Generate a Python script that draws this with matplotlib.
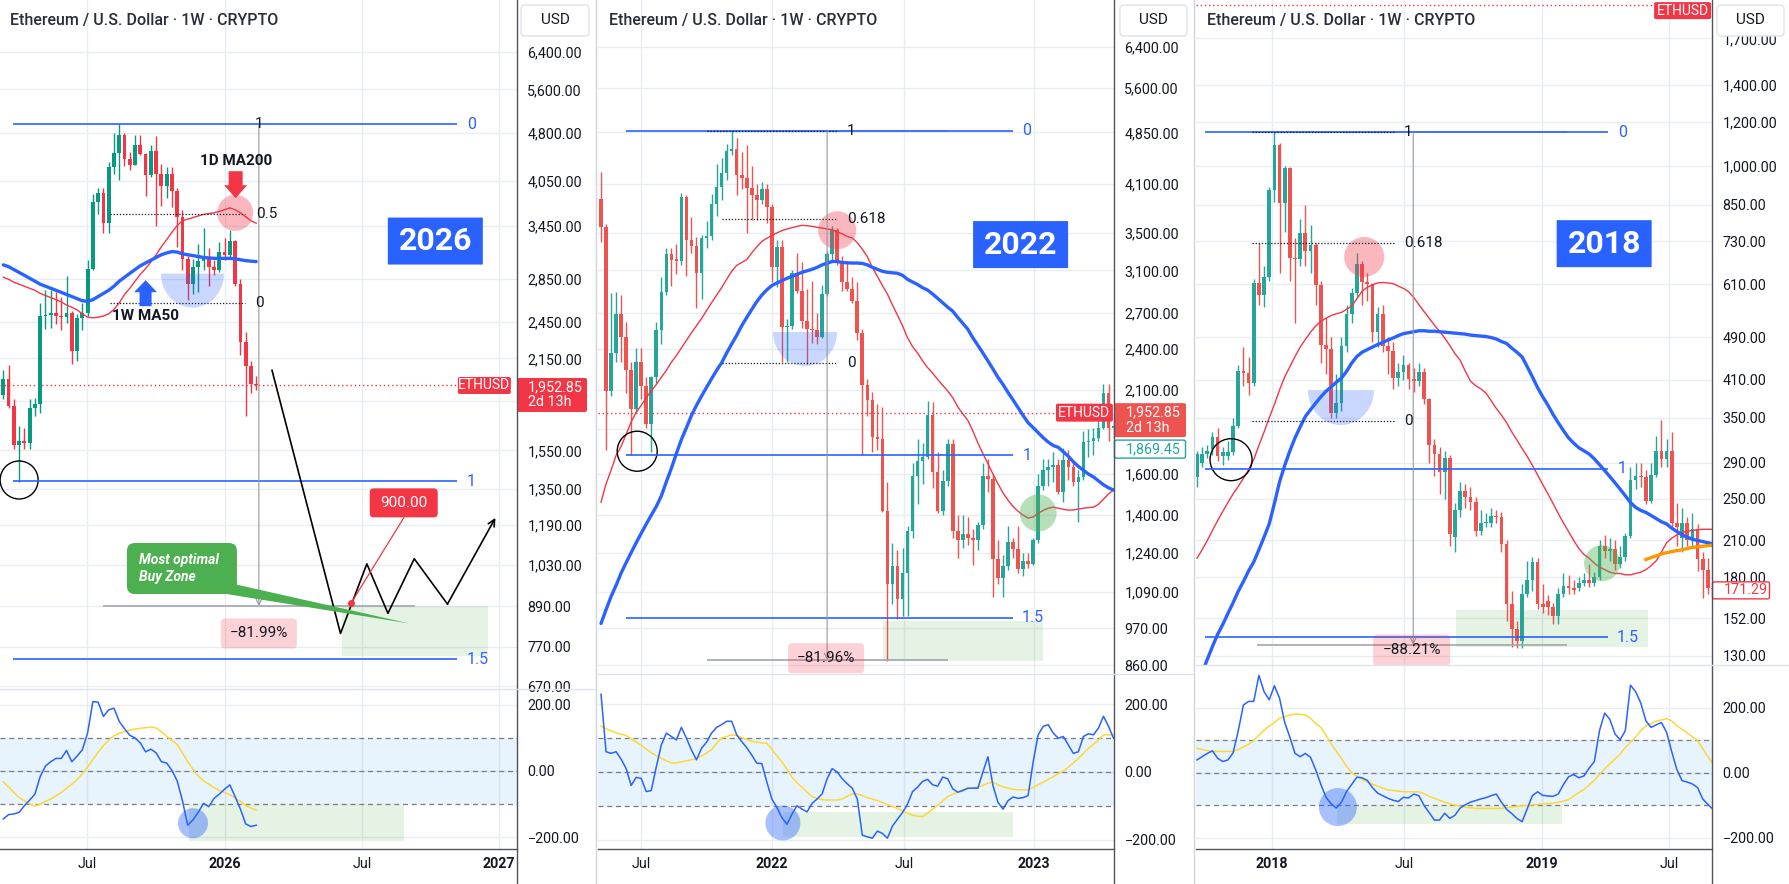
import numpy as np
import matplotlib
matplotlib.use("Agg")
import matplotlib.pyplot as plt
import matplotlib.transforms as mtrans
from matplotlib.patches import Circle, Polygon, Rectangle, FancyBboxPatch
from matplotlib.lines import Line2D
from matplotlib.ticker import NullLocator

# ======================= DATA =======================
# ---- Panel 1 (2025-2026), weekly candles ----
p1_open = [1890,1995,1815,1580,1600,1590,1805,1830,2500,2510,2530,2500,2490,2530,2205,2480,2530,2960,3755,3870,
           3480,4250,4460,4770,4380,4280,4600,4450,4130,4500,4150,3970,4150,3900,3560,3060,2800,2980,3040,3090,
           2980,2950,3140,3110,3270,2800,2280,2090,1960]
p1_high = [2060,2100,1860,1690,1680,1860,1870,2620,2740,2740,2720,2680,2880,2550,2520,2620,3050,3860,3950,3940,
           4330,4790,4955,4800,4490,4770,4760,4470,4590,4750,4290,4250,4250,3950,3650,3100,3060,3230,3420,3180,
           3050,3250,3300,3400,3280,2850,2360,2130,2020]
p1_low = [1860,1800,1560,1385,1560,1560,1750,1770,2390,2400,2430,2380,2440,2110,2130,2380,2500,2950,3600,3360,
          3360,4150,4060,4260,4200,4280,4440,3830,4100,3440,3700,3800,3680,3200,2950,2650,2700,2720,2950,2780,
          2890,2920,3050,3080,2780,2180,1750,1900,1920]
p1_close = [1995,1815,1580,1600,1590,1805,1830,2500,2510,2530,2500,2490,2530,2205,2480,2530,2960,3755,3870,3480,
            4250,4460,4770,4380,4280,4600,4450,4130,4500,4150,3970,4150,3900,3560,3060,2800,2980,3040,3090,2980,
            2950,3140,3110,3270,2800,2280,2090,1960,1952.85]
p1_ma200d = [2870,2850,2820,2800,2780,2760,2740,2710,2690,2670,2650,2630,2600,2580,2556,2520,2490,2485,2490,2500,
             2520,2560,2620,2700,2760,2830,2900,2960,3030,3110,3200,3280,3370,3450,3510,3530,3550,3570,3590,3600,
             3610,3630,3650,3675,3650,3610,3560,3510,3480]
p1_ma50w = [3000,2980,2950,2920,2890,2860,2830,2800,2780,2760,2740,2720,2700,2680,2660,2640,2635,2650,2680,2710,
            2740,2780,2830,2870,2910,2950,2990,3020,3050,3080,3110,3130,3145,3140,3120,3110,3100,3090,3080,3075,
            3070,3070,3070,3070,3065,3055,3045,3040,3035]
p1_cci = [-145,-132,-130,-125,-105,-88,-70,-17,15,28,38,38,62,28,45,64,115,210,208,165,
          185,190,150,128,108,100,85,58,66,55,28,24,2,-30,-90,-164,-148,-125,-98,-108,
          -83,-70,-55,-42,-78,-115,-160,-168,-164]
p1_cci_ma = [-33,-48,-65,-80,-90,-100,-106,-101,-92,-85,-75,-65,-52,-40,-26,-8,12,35,57,77,
             93,107,114,119,124,127,129,131,133,130,119,105,92,80,55,28,5,-15,-30,-40,
             -50,-59,-65,-72,-82,-92,-104,-112,-118]
p1_price_ticks = [6400,5600,4800,4050,3450,2850,2450,2150,1850,1550,1350,1190,1030,890,770,670]
p1_hidden_ticks = [1850]
p1_time_ticks = [15.9, 42.1, 68.1, 94.1]
p1_time_labels = ['Jul', '2026', 'Jul', '2027']
p1_path_x = [51, 64, 69, 73, 78, 84.3, 93.4]
p1_path_y = [2061, 808, 1035, 868, 1054, 897, 1219]
p1_fib = (4950, 1390)          # level 0 (top) and level 1
p1_fib_black_low = 2617        # level 0 of the 0.5 retracement tool
p1_target = 900.0
p1_drop = "\u221281.99%"

# ---- Panel 2 (2021-2023) ----
p2_open = [3905,3570,2095,2370,2690,2500,2240,1975,2300,2130,1880,2190,2550,2885,3270,3210,3200,3930,3415,3355,
           3070,3440,3460,3840,4060,4250,4560,4600,4230,4180,4050,3960,3900,4030,3810,3130,3340,2580,2590,3070,
           2900,2630,2560,2550,2500,2870,3270,3530,3190,2980,2920,2810,2530,2137,2032,1803,1790,1420,1118,1187,
           1065,1160,1330,1590,1670,1691,1938,1610,1420,1565,1765,1330,1290,1315,1300,1290,1357,1590,1575,1214,
           1141,1187,1282,1256,1177,1208,1196,1293,1540,1620,1636,1650,1508,1675,1636,1560,1583,1775,1780,1797,
           1860,2084,1860]
p2_high = [4260,3600,2880,2890,2860,2620,2300,2410,2410,2190,2200,2620,3030,3330,3330,3380,3990,3960,3680,3450,
           3480,3640,3970,4380,4460,4670,4868,4770,4550,4660,4350,4100,4130,4100,3850,3420,3420,2650,3100,3280,
           3180,2920,2990,2700,2960,3300,3580,3560,3250,3180,3030,2980,2560,2180,2090,2010,1990,1560,1280,1250,
           1260,1350,1660,1790,1770,2030,2020,1720,1620,1790,1790,1400,1400,1390,1340,1370,1660,1680,1600,1290,
           1230,1350,1300,1350,1240,1240,1300,1600,1680,1680,1720,1680,1740,1730,1670,1620,1840,1850,1860,1940,
           2140,2140,1950]
p2_low = [3400,1730,2060,2300,2300,2080,1700,1950,2040,1860,1720,2150,2440,2860,2950,3060,3150,3040,3280,2740,
          2820,3330,3420,3700,3900,4150,4510,3960,4030,3500,3650,3650,3850,3620,2980,2940,2300,2300,2560,2880,
          2570,2290,2450,2440,2490,2850,3200,3150,2900,2900,2790,2470,1700,1930,1720,1730,1415,873,1050,1000,
          1010,1010,1300,1450,1550,1680,1530,1410,1400,1540,1300,1220,1260,1270,1190,1250,1340,1510,1072,1120,
          1075,1170,1220,1160,1150,1180,1190,1280,1520,1540,1560,1500,1460,1570,1540,1370,1570,1690,1700,1780,
          1850,1780,1800]
p2_close = [3570,2095,2370,2690,2500,2240,1975,2300,2130,1880,2190,2550,2885,3270,3210,3200,3930,3415,3355,3070,
            3440,3460,3840,4060,4250,4560,4600,4230,4180,4050,3960,3900,4030,3810,3130,3340,2580,2590,3070,2900,
            2630,2560,2550,2500,2870,3270,3530,3190,2980,2920,2810,2530,2137,2032,1803,1790,1420,1118,1187,1065,
            1160,1330,1590,1670,1691,1938,1610,1420,1565,1765,1330,1290,1315,1300,1290,1357,1590,1575,1214,1141,
            1187,1282,1256,1177,1208,1196,1293,1540,1620,1636,1650,1508,1675,1636,1560,1583,1775,1780,1797,1860,
            2084,1860,1869.45]
p2_ma_red = [1460,1550,1620,1700,1750,1820,1895,1955,2000,2050,2095,2140,2190,2240,2300,2350,2410,2470,2530,2590,
             2650,2720,2790,2860,2930,3010,3090,3150,3180,3210,3280,3345,3405,3440,3470,3500,3526,3545,3560,3575,
             3587,3583,3575,3565,3555,3546,3535,3510,3490,3460,3444,3390,3320,3240,3130,3040,2950,2870,2770,2680,
             2590,2490,2420,2370,2310,2260,2220,2175,2135,2095,2050,1990,1945,1905,1840,1770,1710,1655,1600,1550,
             1505,1470,1440,1418,1400,1387,1392,1408,1422,1432,1437,1432,1427,1423,1424,1428,1432,1435,1437,1450,
             1475,1500,1519]
p2_ma_blue = [985,1030,1075,1115,1160,1200,1240,1280,1320,1360,1400,1440,1490,1560,1630,1710,1790,1860,1935,2000,
              2060,2120,2180,2240,2296,2370,2440,2510,2590,2660,2730,2800,2860,2910,2950,2975,2998,3020,3040,3060,
              3080,3095,3110,3130,3155,3172,3190,3190,3180,3176,3174,3174,3170,3155,3130,3110,3090,3080,3075,3070,
              3050,3010,2985,2960,2930,2907,2870,2830,2790,2750,2715,2660,2610,2560,2490,2430,2370,2310,2250,2190,
              2140,2085,2035,1985,1935,1890,1860,1830,1800,1775,1755,1745,1720,1695,1665,1640,1620,1600,1585,1565,
              1545,1530,1519]
p2_cci = [230,60,55,60,38,10,-40,-16,-19,-58,-55,15,80,115,105,95,132,100,65,36,
          70,88,115,132,140,150,150,110,90,72,50,26,25,-30,-80,-105,-135,-155,-125,-100,
          -110,-118,-93,-80,-65,-20,10,0,-20,-35,-48,-80,-187,-192,-196,-175,-182,-196,-160,-140,
          -120,-95,-58,-45,-28,-22,-38,-42,-15,-20,-50,-60,-55,-48,-48,-48,0,45,-40,-90,
          -110,-85,-74,-78,-76,-70,30,110,135,140,115,100,105,80,55,60,105,113,110,130,
          165,135,100]
p2_cci_ma = [136,128,122,116,112,108,98,88,79,68,57,48,40,33,27,27,30,33,36,40,
             47,56,66,85,100,105,110,108,102,96,91,88,86,85,67,48,30,8,-15,-32,
             -45,-60,-73,-78,-82,-83,-83,-83,-80,-72,-65,-65,-70,-76,-80,-85,-90,-97,-102,-108,
             -115,-122,-128,-131,-132,-122,-110,-98,-86,-73,-66,-60,-53,-50,-47,-44,-40,-33,-30,-38,
             -44,-48,-51,-53,-53,-53,-46,-38,-30,-22,-14,-5,3,14,27,40,55,70,82,94,
             110,110,110]
p2_price_ticks = [6400,5600,4850,4100,3500,3100,2700,2400,2100,1850,1600,1400,1240,1090,970,860]
p2_hidden_ticks = [1850]
p2_time_ticks = [7.96, 34.0, 60.3, 86.2]
p2_time_labels = ['Jul', '2022', 'Jul', '2023']
p2_fib = (4880, 1700)
p2_fib_black_low = 2294
p2_drop = "\u221281.96%"

# ---- Panel 3 (2017-2019) ----
p3_open = [274,290,301,308,323,298,298,303,338,426,422,405,614,583,628,905,1090,856,989,682,
           677,757,700,718,608,474,466,357,373,473,540,588,663,617,610,500,540,473,462,414,
           424,436,411,408,424,378,313,301,279,296,213,238,258,252,246,218,226,226,233,232,
           207,161,145,138,168,178,192,161,163,159,153,168,174,172,172,176,178,176,180,205,
           201,203,190,196,214,270,275,274,247,276,305,295,305,226,212,226,210,220,194,186,
           172]
p3_high = [305,310,312,330,335,310,318,350,436,470,450,625,725,660,915,1150,1100,1000,995,740,
           800,850,780,725,620,530,490,420,490,560,600,695,672,640,615,555,560,490,480,440,
           455,440,430,440,430,380,320,310,305,300,245,268,266,262,252,238,235,240,238,236,
           210,170,150,175,193,196,195,175,167,162,172,183,182,178,180,183,190,184,210,215,
           212,210,205,217,285,290,290,282,290,325,347,320,330,245,240,232,235,225,200,195,
           185]
p3_low = [262,285,296,300,292,287,294,300,335,400,385,400,560,555,620,860,640,760,620,520,
          660,660,640,560,440,420,350,350,360,460,520,580,560,570,480,470,460,420,395,400,
          410,395,390,400,370,290,275,255,250,205,200,232,240,238,214,215,222,222,226,200,
          150,135,134,134,166,170,158,155,154,148,148,166,168,168,170,174,173,174,178,195,
          193,186,187,193,212,260,262,244,245,274,285,285,220,205,200,205,205,185,165,168,
          160]
p3_close = [301,301,305,323,298,303,303,338,426,422,405,614,583,628,905,1090,856,989,682,677,
            757,700,718,608,474,466,357,373,473,540,588,663,617,610,500,540,473,462,414,424,
            436,411,408,424,378,313,301,279,296,216,238,258,252,246,218,226,227,233,232,207,
            161,145,138,168,178,192,161,159,159,153,168,174,172,171,176,178,176,180,205,201,
            203,190,196,214,270,275,274,247,276,305,295,305,226,222,226,210,220,194,186,172,
            171.29]
p3_ma_red = [195,202,210,219,228,237,246,255,263,272,282,294,312,330,350,370,393,415,433,452,
             470,485,500,513,523,530,536,540,543,550,558,575,593,603,609,614,615,614,612,606,
             600,592,578,561,545,530,515,502,488,473,457,445,425,408,400,395,388,376,364,354,
             343,330,319,308,298,287,276,265,255,245,235,226,218,210,203,198,195,191,188,186,
             184,183,183,182,182,183,184,186,189,193,200,208,212,215,217,218,219,219.5,220,220,
             220]
p3_ma_blue = [115,121,128,135,142,148,155,162,170,177,185,192,202,213,225,245,268,287,305,322,
              337,352,362,372,382,391,398,406,413,425,440,452,460,465,470,475,479,484,488,493,
              497,499,501,503,503,502,502,501,500,499,498,497,496,494,493,492,491,489,486,481,
              477,468,460,451,433,415,397,382,369,355,343,332,322,315,309,305,301,295,288,281,
              274,267,260,253,246,241,238,236,233,230,227,225,221,218,215,213,211,210,209,208,
              207]
p3_orange_x = [87,88,89,90,91,92,93,94,95,96,97,98,99,100]
p3_orange_y = [194,195.5,197,198.5,199.5,200.5,201.3,202,203,204,204.5,205,205.5,206]
p3_cci = [40,50,60,68,45,35,40,62,130,209,220,220,300,250,225,268,230,155,110,60,
          50,60,48,10,-35,-75,-95,-108,-90,-57,-35,-13,-15,-23,-45,-62,-70,-78,-84,-88,
          -75,-77,-65,-70,-100,-122,-145,-145,-124,-140,-130,-108,-98,-90,-85,-80,-76,-70,-65,-90,
          -112,-125,-140,-150,-110,-70,-58,-69,-71,-72,-65,-36,-12,-5,-15,-9,15,35,130,184,
          165,120,102,130,270,250,215,160,140,148,155,125,65,10,-24,-28,-34,-45,-80,-97,
          -112]
p3_cci_ma = [76,72,69,66,66,66,66,66,72,80,88,100,116,132,144,155,168,173,178,181,
             180,178,168,152,140,115,90,67,44,20,0,-10,-19,-28,-34,-41,-47,-52,-54,-56,
             -58,-58,-58,-58,-64,-72,-78,-84,-90,-95,-99,-102,-105,-107,-109,-109,-109,-109,-109,-109,
             -107,-105,-103,-101,-100,-98,-97,-95,-94,-93,-90,-87,-82,-71,-60,-51,-37,-22,-5,12,
             28,43,58,78,94,110,130,145,152,159,163,167,160,145,134,123,111,100,75,50,
             28]
p3_price_ticks = [1700,1400,1200,1000,850,730,610,490,410,350,290,250,210,180,152,130]
p3_hidden_ticks = []
p3_time_ticks = [14.5, 40.1, 66.9, 91.5]
p3_time_labels = ['2018', 'Jul', '2019', 'Jul']
p3_fib = (1150, 283)
p3_fib_black_low = 345
p3_drop = "\u221288.21%"

live_price = 1952.85

# ======================= STYLE / LAYOUT =======================
plt.rcParams['font.family'] = ['Roboto', 'DejaVu Sans']
TXT = '#131722'
GRID = '#e9ecf2'
AXL = '#50535e'
BLUE = '#2962ff'
RED = '#f23645'
GREEN = '#4caf50'
YEL = '#fdd835'
GRAY = '#9598a1'

W, H, DPI = 1789, 884, 100
fig = plt.figure(figsize=(W / DPI, H / DPI), dpi=DPI)
fig.patch.set_facecolor('white')
BOT = 849


def fig_ax(l, t, r, b):
    return fig.add_axes([l / W, 1 - b / H, (r - l) / W, (b - t) / H])


def ptrans(ax, x, y, base=None):
    return fig.dpi_scale_trans + mtrans.ScaledTranslation(x, y, base if base is not None else ax.transData)


def circle(ax, x, y, r, fc='none', ec='none', lw=1.0, alpha=1.0, z=5):
    c = Circle((0, 0), r / DPI, transform=ptrans(ax, x, y), fc=fc, ec=ec, lw=lw, alpha=alpha, zorder=z)
    ax.add_artist(c)


def rbox(ax, x, y, w, h, fc, ec='none', lw=0, rs=3, alpha=1.0, z=8, base=None, dx=0, dy=0):
    p = FancyBboxPatch(((dx - w / 2) / DPI, (dy - h / 2) / DPI), w / DPI, h / DPI,
                       boxstyle=f"round,pad=0,rounding_size={rs / DPI}",
                       transform=ptrans(ax, x, y, base), fc=fc, ec=ec, lw=lw, alpha=alpha,
                       zorder=z, clip_on=False)
    ax.add_artist(p)


def ptext(ax, x, y, s, dx=0, dy=0, base=None, **kw):
    ax.annotate(s, xy=(x, y), xycoords=base if base is not None else 'data',
                xytext=(dx * 0.72, dy * 0.72), textcoords='offset points',
                annotation_clip=False, **kw)


def bowl(ax, x, y, w, d, alpha=0.25):
    t = np.linspace(0, np.pi, 40)
    pts = np.column_stack([w / 2 * np.cos(t), -d * np.sin(t)]) / DPI
    ax.add_artist(Polygon(pts, closed=True, transform=ptrans(ax, x, y), fc=BLUE, ec='none',
                          alpha=alpha, zorder=5))


def block_arrow(ax, x, y, w, h, shaft, head, color, up=True):
    s = 1 if up else -1
    pts = np.array([(-shaft / 2, -s * h / 2), (shaft / 2, -s * h / 2), (shaft / 2, s * (h / 2 - head)),
                    (w / 2, s * (h / 2 - head)), (0, s * h / 2), (-w / 2, s * (h / 2 - head)),
                    (-shaft / 2, s * (h / 2 - head))]) / DPI
    ax.add_artist(Polygon(pts, closed=True, transform=ptrans(ax, x, y), fc=color, ec='none', zorder=7))


def fib_down(top, one, k):
    return float(np.exp(np.log(top) - k * (np.log(top) - np.log(one))))


def fib_up(low, top, k):
    return float(np.exp(np.log(low) + k * (np.log(top) - np.log(low))))


def draw_panel(left, right, mb, ylim, cylim, xlim, yt, hidden, xt, xl, O, Hh, L, C, red, blue, cci, ccim, up, dn):
    ax = fig_ax(left, 0, right, mb)
    axi = fig_ax(left, mb, right, BOT)
    for a in (ax, axi):
        for s in a.spines.values():
            s.set_visible(False)
        a.set_xlim(*xlim)
        a.set_xticks(xt)
        a.yaxis.tick_right()
        a.tick_params(axis='both', length=0, labelsize=10.3, labelcolor=TXT)
        a.tick_params(axis='y', pad=7.5)
        a.grid(True, color=GRID, lw=1)
        a.set_axisbelow(True)
    ax.set_yscale('log')
    ax.set_ylim(*ylim)
    ax.yaxis.set_minor_locator(NullLocator())
    ax.set_yticks(yt)
    # labels hidden behind the live-price tag in the original are left blank
    ax.set_yticklabels(['' if v in hidden else f"{v:,.2f}" for v in yt])
    ax.yaxis.set_minor_locator(NullLocator())
    ax.tick_params(axis='x', labelbottom=False)

    x = np.arange(len(O))
    O = np.asarray(O, float); Hh = np.asarray(Hh, float)
    L = np.asarray(L, float); C = np.asarray(C, float)
    cols = np.where(C >= O, up, dn)
    ax.vlines(x, L, Hh, colors=cols, lw=1, zorder=3)
    lo = np.minimum(O, C)
    hi = np.maximum(np.maximum(O, C), lo * 1.004)
    ax.bar(x, hi - lo, bottom=lo, width=0.72, color=cols, lw=0, zorder=4)
    ax.plot(x, red, color=RED, lw=1.0, zorder=5)
    ax.plot(x, blue, color=BLUE, lw=2.4, zorder=5, solid_capstyle='round')

    axi.set_ylim(*cylim)
    axi.set_yticks([200, 0, -200])
    axi.set_yticklabels(['200.00', '0.00', '\u2212200.00'])
    axi.axhspan(-100, 100, color='#2196f3', alpha=0.1, lw=0, zorder=1)
    for v in (100, 0, -100):
        axi.axhline(v, color='#787b86', lw=0.9, ls=(0, (4, 3)), zorder=2)
    xc = np.arange(len(cci))
    axi.plot(xc, ccim, color=YEL, lw=1.1, zorder=3)
    axi.plot(xc, cci, color=BLUE, lw=1.1, zorder=4)
    axi.set_xticklabels(xl)
    axi.tick_params(axis='x', pad=6)
    for lab in axi.get_xticklabels():
        if lab.get_text()[:1] == '2':
            lab.set_fontweight('bold')
    fig.add_artist(Line2D([right / W] * 2, [0, 1], transform=fig.transFigure, color=AXL, lw=1))
    fig.add_artist(Line2D([left / W, right / W], [1 - BOT / H] * 2, transform=fig.transFigure, color=AXL, lw=1))
    return ax, axi


def measure(ax, xv, top, low, x0, x1, label, lx, ly, lw_, lh_):
    ax.annotate('', xy=(xv, low), xytext=(xv, top),
                arrowprops=dict(arrowstyle='->', color=GRAY, lw=0.8, shrinkA=0, shrinkB=0), zorder=6)
    ax.hlines(low, x0, x1, color='#a3a6af', lw=1.2, zorder=6)
    rbox(ax, lx, ly, lw_, lh_, fc=RED, alpha=0.22, rs=4, z=7)
    ptext(ax, lx, ly, label, ha='center', va='center', fontsize=11, color=TXT, zorder=9)


def blue_fib(ax, top, one, x0, x1, lx, lx15):
    for k, lab in ((0, '0'), (1, '1'), (1.5, '1.5')):
        v = fib_down(top, one, k)
        ax.hlines(v, x0, x1, color=BLUE, lw=1.2, zorder=6)
        ptext(ax, lx15 if k == 1.5 else lx, v, lab, ha='center', va='center', fontsize=11.5, color=BLUE, zorder=9)


def black_fib(ax, low, top, level, x0, x1, xtop0, lx, lxl):
    ax.hlines(top, xtop0, x1, color=TXT, lw=0.9, ls=(0, (1, 1.5)), zorder=6)
    for k in (level, 0):
        v = fib_up(low, top, k)
        ax.hlines(v, x0, x1, color=TXT, lw=0.9, ls=(0, (1, 1.5)), zorder=6)
    ptext(ax, lx, top, '1', ha='center', va='center', fontsize=11, color=TXT, zorder=9)
    ptext(ax, lxl, fib_up(low, top, level), f"{level:g}", ha='left', va='center', fontsize=11, color=TXT, zorder=9)
    ptext(ax, lx, low, '0', ha='center', va='center', fontsize=11, color=TXT, zorder=9)


def year_box(ax, x, y, txt):
    rbox(ax, x, y, 95, 47, fc=BLUE, rs=0.5, z=8)
    ptext(ax, x, y, txt, ha='center', va='center', fontsize=23, fontweight='bold', color='white', zorder=9)


def eth_tag(ax, x, y, w, h, dy=0):
    rbox(ax, x, y, w, h, fc=RED, rs=2, z=8, dy=dy)
    ptext(ax, x, y, 'ETHUSD', dy=dy, ha='center', va='center', fontsize=10, color='white', zorder=9)


# ======================= PANEL 1 =======================
ax1, ai1 = draw_panel(0, 517, 689, (663, 7700), (-236, 248), (-0.63, 97.5), p1_price_ticks, p1_hidden_ticks,
                      p1_time_ticks, p1_time_labels, p1_open, p1_high, p1_low, p1_close,
                      p1_ma200d, p1_ma50w, p1_cci, p1_cci_ma, '#089981', RED)
blue_fib(ax1, p1_fib[0], p1_fib[1], 1.84, 86.1, 88.8, 90.1)
black_fib(ax1, p1_fib_black_low, p1_fib[0], 0.5, 20.2, 45.9, 45.9, 48.6, 47.9)
measure(ax1, 48.5, p1_fib[0], 891, 18.9, 78.1, p1_drop, 48.5, 808, 76, 30)
ptext(ax1, 44.1, 4340, '1D MA200', ha='center', va='center', fontsize=11, fontweight='bold', color=TXT, zorder=9)
block_arrow(ax1, 44.1, 3990, 23, 27, 14, 13, RED, up=False)
circle(ax1, 44, 3610, 18, fc=RED, alpha=0.35)
block_arrow(ax1, 27, 2712, 23, 26, 12, 12, BLUE, up=True)
ptext(ax1, 26.9, 2503, '1W MA50', ha='center', va='center', fontsize=11, fontweight='bold', color=TXT, zorder=9)
bowl(ax1, 35.9, 2908, 63, 34)
circle(ax1, 3, 1395, 19, ec='black', lw=1)
year_box(ax1, 82, 3265, '2026')
ax1.hlines(live_price, -0.63, 86.3, color=RED, lw=1, ls=(0, (1, 2)), zorder=2)
eth_tag(ax1, 91.3, live_price, 53, 17)
bl1 = mtrans.blended_transform_factory(ax1.transAxes, ax1.transData)
rbox(ax1, 1.0, live_price, 70, 34, fc=RED, rs=2, z=10, base=bl1, dx=35, dy=-9.5)
ptext(ax1, 1.0, live_price, '1,952.85', dx=11, dy=-1.5, base=bl1, ha='left', va='center', fontsize=10.3, color='white', zorder=11)
ptext(ax1, 1.0, live_price, '2d 13h', dx=11, dy=-17, base=bl1, ha='left', va='center', fontsize=10.3, color='white', zorder=11)
# projection
ax1.plot(p1_path_x[:-1], p1_path_y[:-1], color='black', lw=1.2, zorder=7)
ax1.annotate('', xy=(p1_path_x[-1], p1_path_y[-1]), xytext=(p1_path_x[-2], p1_path_y[-2]),
             arrowprops=dict(arrowstyle='->', color='black', lw=1.2, shrinkA=0, shrinkB=0, mutation_scale=12), zorder=7)
ax1.add_patch(Rectangle((64.3, 745), 92 - 64.3, 891 - 745, fc=GREEN, alpha=0.15, lw=0, zorder=2))
ax1.plot([66, 76], [p1_target, 1219], color=RED, lw=0.9, zorder=7)
ax1.plot([66], [p1_target], 'o', color=RED, ms=4, zorder=8)
rbox(ax1, 76, 1286, 68, 29, fc=RED, rs=4, z=8)
ptext(ax1, 76, 1286, f"{p1_target:.2f}", ha='center', va='center', fontsize=11, color='white', zorder=9)
ax1.add_patch(Polygon([(42.6, 929), (44.35, 961), (77.1, 837)], closed=True, fc=GREEN, ec='none', zorder=7))
rbox(ax1, 33.9, 1018, 110, 51, fc=GREEN, rs=8, z=7)
ptext(ax1, 33.9, 1018, 'Most optimal\nBuy Zone', dx=-43, ha='left', va='center', fontsize=10,
      fontweight='bold', fontstyle='italic', color='white', zorder=9, linespacing=1.25)
ai1.add_patch(Rectangle((35.2, -212), 76 - 35.2, 112, fc=GREEN, alpha=0.15, lw=0, zorder=1))
circle(ai1, 36, -158, 15, fc=BLUE, alpha=0.4)

# ======================= PANEL 2 =======================
ax2, ai2 = draw_panel(598, 1114, 674, (836, 7455), (-228, 290), (-0.6, 102.09), p2_price_ticks, p2_hidden_ticks,
                      p2_time_ticks, p2_time_labels, p2_open, p2_high, p2_low, p2_close,
                      p2_ma_red, p2_ma_blue, p2_cci, p2_cci_ma, '#26a69a', '#ef5350')
blue_fib(ax2, p2_fib[0], p2_fib[1], 5, 82, 84.8, 86.0)
ax2.hlines(p2_fib[0], 21, 69, color='#b2b5be', lw=1.2, zorder=5)
black_fib(ax2, p2_fib_black_low, p2_fib[0], 0.618, 24, 47, 21, 49.8, 49.0)
measure(ax2, 45, p2_fib[0], 875, 21, 69, p2_drop, 44.8, 880, 76, 30)
circle(ax2, 47, 3530, 19, fc=RED, alpha=0.35)
bowl(ax2, 40.6, 2537, 64, 34)
circle(ax2, 7.2, 1723, 20, ec='black', lw=1)
circle(ax2, 87, 1410, 18.5, fc=GREEN, alpha=0.4)
ax2.add_patch(Rectangle((56.1, 872), 88 - 56.1, 992 - 872, fc=GREEN, alpha=0.15, lw=0, zorder=2))
year_box(ax2, 83.5, 3370, '2022')
ax2.hlines(live_price, -0.6, 90.9, color=RED, lw=1, ls=(0, (1, 2)), zorder=2)
eth_tag(ax2, 96.2, live_price, 57, 18)
bl2 = mtrans.blended_transform_factory(ax2.transAxes, ax2.transData)
rbox(ax2, 1.0, live_price, 72, 34, fc='#ef5350', rs=2, z=10, base=bl2, dx=36, dy=-7.5)
ptext(ax2, 1.0, live_price, '1,952.85', dx=12, dy=0, base=bl2, ha='left', va='center', fontsize=10.3, color='white', zorder=11)
ptext(ax2, 1.0, live_price, '2d 13h', dx=12, dy=-15.5, base=bl2, ha='left', va='center', fontsize=10.3, color='white', zorder=11)
rbox(ax2, 1.0, p2_close[-1], 71, 18, fc='white', ec='#26a69a', lw=1, rs=2, z=10, base=bl2, dx=36, dy=-23)
ptext(ax2, 1.0, p2_close[-1], f"{p2_close[-1]:,.2f}", dx=12, dy=-23, base=bl2, ha='left', va='center', fontsize=10.3, color='#26a69a', zorder=11)
ai2.add_patch(Rectangle((36.2, -193), 82 - 36.2, 74, fc=GREEN, alpha=0.15, lw=0, zorder=1))
circle(ai2, 36.2, -151, 17.5, fc=BLUE, alpha=0.4)

# ======================= PANEL 3 =======================
ax3, ai3 = draw_panel(1196, 1712, 665, (125, 1995), (-234, 332), (-0.19, 99.8), p3_price_ticks, p3_hidden_ticks,
                      p3_time_ticks, p3_time_labels, p3_open, p3_high, p3_low, p3_close,
                      p3_ma_red, p3_ma_blue, p3_cci, p3_cci_ma, '#26a69a', '#ef5350')
blue_fib(ax3, p3_fib[0], p3_fib[1], 1.55, 79.7, 82.4, 83.5)
ax3.hlines(p3_fib[0], 10.7, 71.7, color='#b2b5be', lw=1.2, zorder=5)
black_fib(ax3, p3_fib_black_low, p3_fib[0], 0.618, 10.7, 38.2, 10.7, 40.9, 40.1)
measure(ax3, 41.9, p3_fib[0], 136, 11.6, 71.7, p3_drop, 41.6, 133, 77, 31)
circle(ax3, 32.4, 684, 20, fc=RED, alpha=0.35)
bowl(ax3, 27.9, 393, 66, 35)
circle(ax3, 6.6, 294, 21, ec='black', lw=1)
circle(ax3, 78.5, 191, 18, fc=GREEN, alpha=0.4)
ax3.add_patch(Rectangle((50.2, 135), 87.4 - 50.2, 157 - 135, fc=GREEN, alpha=0.15, lw=0, zorder=2))
ax3.plot(p3_orange_x, p3_orange_y, color='#ff9800', lw=2.4, zorder=5)
year_box(ax3, 78.9, 723, '2018')
ax3.hlines(live_price, -0.19, 88.7, color=RED, lw=1, ls=(0, (1, 2)), zorder=2)
eth_tag(ax3, 94.1, live_price, 57, 17, dy=-5.5)
bl3 = mtrans.blended_transform_factory(ax3.transAxes, ax3.transData)
rbox(ax3, 1.0, p3_close[-1], 57, 17, fc='white', ec=RED, lw=1, rs=2, z=10, base=bl3, dx=29, dy=-1)
ptext(ax3, 1.0, p3_close[-1], f"{p3_close[-1]:.2f}", dx=12, dy=-1, base=bl3, ha='left', va='center', fontsize=10.3, color=RED, zorder=11)
ai3.add_patch(Rectangle((27.1, -157), 70.7 - 27.1, 59, fc=GREEN, alpha=0.15, lw=0, zorder=1))
circle(ai3, 27.3, -105, 19, fc=BLUE, alpha=0.4)

# ======================= FRAME / HEADERS =======================
for (x0, x1, y) in ((0, 595, 689), (598, 1192, 674), (1196, 1789, 665)):
    fig.add_artist(Line2D([x0 / W, x1 / W], [1 - y / H] * 2, transform=fig.transFigure, color='#e0e3eb', lw=1))
for xv in (595.5, 1193.5):
    fig.add_artist(Line2D([xv / W] * 2, [0, 1], transform=fig.transFigure, color='#d1d4dc', lw=1))

for tx in (10, 609, 1207):
    fig.text(tx / W, 1 - 21 / H, 'Ethereum / U.S. Dollar \u00b7 1W \u00b7 CRYPTO', ha='left', va='center',
             fontsize=11.5, color='#2a2e39', fontweight='medium')

for (bx0, bx1) in ((521, 589), (1120, 1187), (1717, 1784)):
    fig.add_artist(FancyBboxPatch((bx0 / DPI, (H - 36) / DPI), (bx1 - bx0) / DPI, 31 / DPI,
                                  boxstyle=f"round,pad=0,rounding_size={4 / DPI}",
                                  transform=fig.dpi_scale_trans, fc='white', ec='#e0e3eb', lw=1, zorder=20))
    fig.text((bx0 + bx1) / 2 / W, 1 - 20.5 / H, 'USD', ha='center', va='center', fontsize=11,
             color=TXT, zorder=21)

fig.savefig('out.png', dpi=DPI, facecolor='white')
